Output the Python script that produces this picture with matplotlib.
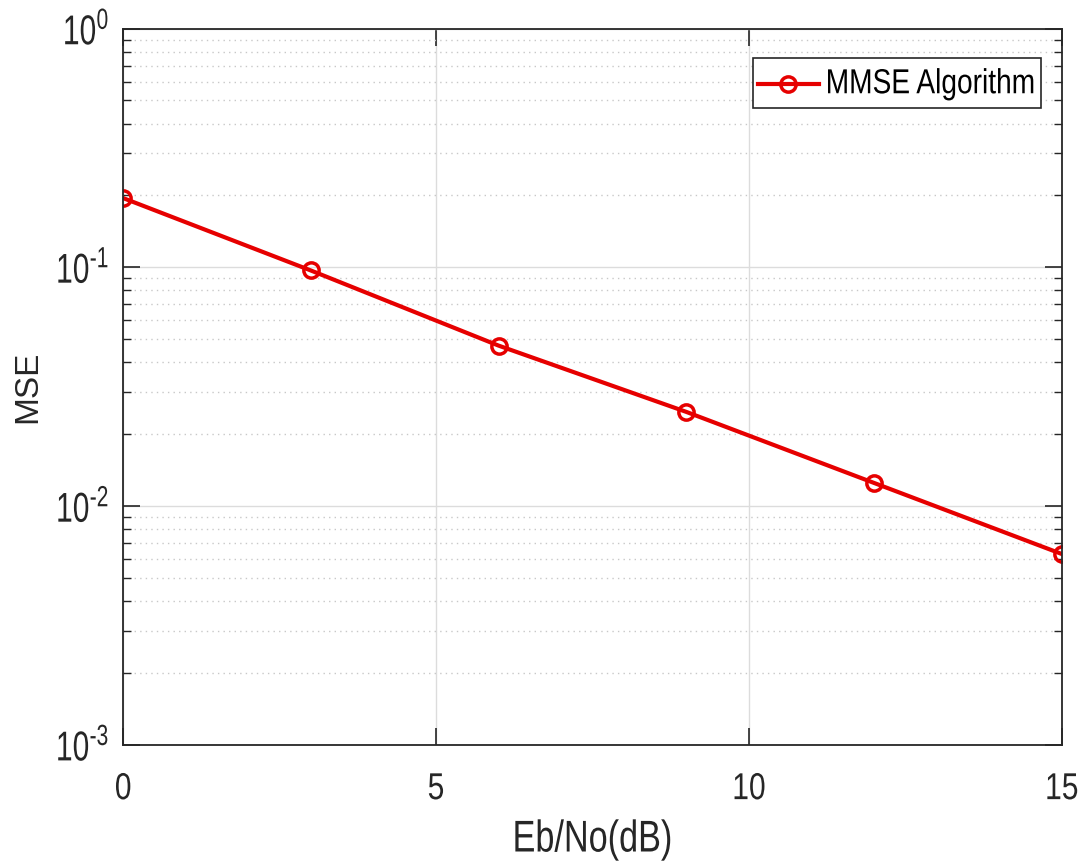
import matplotlib
matplotlib.use("Agg")
import matplotlib.pyplot as plt
from matplotlib.patheffects import AbstractPathEffect
from matplotlib.transforms import Affine2D
from matplotlib.patches import Rectangle
from matplotlib.lines import Line2D
from matplotlib.ticker import LogLocator, FuncFormatter, NullFormatter, FixedLocator
import numpy as np

REG = 'Liberation Sans'
plt.rcParams['font.family'] = [REG, 'DejaVu Sans']
plt.rcParams['mathtext.fontset'] = 'custom'
plt.rcParams['mathtext.rm'] = REG
plt.rcParams['mathtext.default'] = 'regular'

ebno = [0, 3, 6, 9, 12, 15]
mse = [0.195, 0.097, 0.047, 0.0248, 0.0125, 0.0063]
series_label = "MMSE Algorithm"
x_ticks = [0, 5, 10, 15]
y_major = [1e-3, 1e-2, 1e-1, 1e0]

RED = '#e60000'
DARK = '#262626'


class HCompress(AbstractPathEffect):
    """Horizontally condense glyphs (mimics the tall/narrow text of the reference)."""
    def __init__(self, sx=0.78, pivot='center'):
        super().__init__()
        self.sx = sx
        self.pivot = pivot

    def draw_path(self, renderer, gc, tpath, affine, rgbFace=None):
        ext = tpath.get_extents()
        if self.pivot == 'center':
            p = (ext.x0 + ext.x1) / 2
        elif self.pivot == 'right':
            p = ext.x1
        else:
            p = ext.x0
        pre = Affine2D().translate(-p, 0).scale(self.sx, 1).translate(p, 0)
        renderer.draw_path(gc, tpath, pre + affine, rgbFace)


fig = plt.figure(figsize=(10.9, 8.67), dpi=100)
ax = fig.add_axes([0.113, 0.141, 0.861, 0.826])

ax.plot(ebno, mse, color=RED, lw=3, marker='o', ms=11, mfc='none',
        mec=RED, mew=2.5, label=series_label)

ax.set_yscale('log')
ax.set_xlim(0, 15)
ax.set_ylim(1e-3, 1e0)
ax.set_xticks(x_ticks)
ax.yaxis.set_major_locator(FixedLocator(y_major))
ax.yaxis.set_minor_locator(LogLocator(base=10, subs=np.arange(2, 10), numticks=20))
ax.yaxis.set_minor_formatter(NullFormatter())


def fmt(v, pos):
    e = int(round(np.log10(v)))
    if e < 0:
        return r'$10^{\text{-}%d}$' % (-e)
    return r'$10^{%d}$' % e


ax.yaxis.set_major_formatter(FuncFormatter(fmt))

ax.tick_params(axis='both', which='both', direction='in', top=True, right=True,
               colors=DARK, labelcolor=DARK)
ax.tick_params(axis='both', which='major', length=12, width=1.2)
ax.tick_params(axis='x', which='major', labelsize=27, pad=19)
ax.tick_params(axis='y', which='major', labelsize=30, pad=10)
ax.tick_params(axis='y', which='minor', length=6, width=1)
ax.tick_params(axis='x', which='minor', bottom=False, top=False)

ax.grid(True, which='major', color='#dcdcdc', lw=1, ls='-')
ax.grid(True, which='minor', axis='y', color='#c8c8c8', lw=1, ls=(0, (1, 3)))
ax.set_axisbelow(True)
for s in ax.spines.values():
    s.set_color(DARK)
    s.set_linewidth(1.3)

xl = ax.set_xlabel('Eb/No(dB)', fontsize=32, color=DARK)
ax.xaxis.set_label_coords(0.5, -0.133)
xl.set_va('center')
xl.set_path_effects([HCompress(0.77, 'center')])

yl = ax.set_ylabel('MSE', fontsize=24, color=DARK)
ax.yaxis.set_label_coords(-0.102, 0.5)
yl.set_va('center')

# legend box (MATLAB style), drawn in axes-fraction coordinates
ax.add_patch(Rectangle((0.6706, 0.8897), 0.3070, 0.0698, transform=ax.transAxes,
                       facecolor='white', edgecolor=DARK, lw=1.2, zorder=5))
ax.add_line(Line2D([0.676, 0.741], [0.923, 0.923], transform=ax.transAxes,
                   color=RED, lw=3, zorder=6))
ax.add_line(Line2D([0.708], [0.923], transform=ax.transAxes, color=RED,
                   marker='o', ms=11, mfc='none', mec=RED, mew=2.5, zorder=6))
lt = ax.text(0.748, 0.923, series_label, transform=ax.transAxes, fontsize=25,
             color='black', ha='left', va='center', zorder=7)
lt.set_path_effects([HCompress(0.81, 'left')])

fig.canvas.draw()
for t in ax.get_xticklabels():
    t.set_path_effects([HCompress(0.8, 'center')])
for t in ax.get_yticklabels():
    t.set_path_effects([HCompress(0.72, 'right')])

fig.savefig('out.png', dpi=100)
